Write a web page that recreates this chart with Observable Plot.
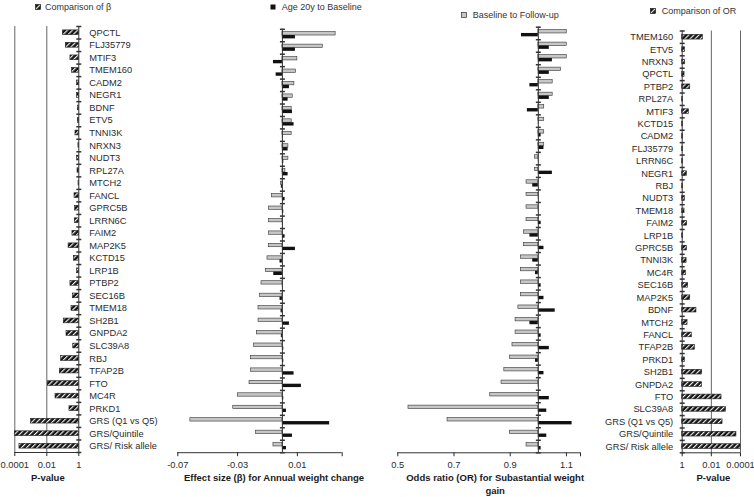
<!DOCTYPE html>
<html>
<head>
<meta charset="utf-8">
<script src="https://cdn.jsdelivr.net/npm/d3@7"></script>
<script src="https://cdn.jsdelivr.net/npm/@observablehq/plot@0.6"></script>
<style>
  html, body { margin: 0; padding: 0; background: #fff; }
  #chart { position: relative; width: 754px; height: 497px; overflow: hidden; font-family: "Liberation Sans", Arial, Helvetica, sans-serif; }
  #chart .layer { position: absolute; left: 0; top: 0; }
  .lg-text { position: absolute; font-size: 9px; line-height: 12px; color: #333; white-space: nowrap; }
  .lg-sw { position: absolute; }
</style>
</head>
<body>
<div id="chart"></div>
<svg width="0" height="0" style="position:absolute;left:0;top:0">
  <defs>
    <pattern id="hatch" patternUnits="userSpaceOnUse" width="3.6" height="3.6" patternTransform="rotate(45)">
      <rect width="3.6" height="3.6" fill="#141414"></rect>
      <line x1="0.6" y1="0" x2="0.6" y2="3.6" stroke="#ffffff" stroke-width="1.1"></line>
    </pattern>
  </defs>
</svg>
<script>
// ---------- DATA ----------
// Left panels (P-value of β comparison, and β effect sizes) — row order
const betaGenes = ["QPCTL","FLJ35779","MTIF3","TMEM160","CADM2","NEGR1","BDNF","ETV5","TNNI3K","NRXN3","NUDT3","RPL27A","MTCH2","FANCL","GPRC5B","LRRN6C","FAIM2","MAP2K5","KCTD15","LRP1B","PTBP2","SEC16B","TMEM18","SH2B1","GNPDA2","SLC39A8","RBJ","TFAP2B","FTO","MC4R","PRKD1","GRS (Q1 vs Q5)","GRS/Quintile","GRS/ Risk allele"];
const betaCompareP = [0.1,0.155,0.30,0.38,0.79,0.79,0.87,0.87,0.62,0.95,0.79,0.83,0.96,0.54,0.59,0.56,0.40,0.23,0.49,0.79,0.30,0.42,0.35,0.115,0.17,0.45,0.079,0.065,0.0115,0.035,0.26,0.00105,0.0001,0.000195];
const betaFollowUp = [0.0356,0.027,0.010,0.0091,0.008,0.0069,0.0062,0.0062,0.0062,0.004,0.004,0.002,-0.001,-0.0071,-0.0089,-0.0089,-0.0089,-0.0089,-0.010,-0.011,-0.014,-0.0149,-0.016,-0.016,-0.0171,-0.0189,-0.0209,-0.0209,-0.022,-0.0298,-0.0329,-0.0616,-0.0178,-0.006];
const betaAge20 = [0.0087,0.0087,-0.006,-0.0042,0.0047,0.0038,0.0067,0.0078,0.0003,0.0038,0.0009,0.0038,-0.0007,0.0018,0.0009,0.0003,0.0018,0.0087,-0.0016,-0.0058,0.0003,-0.0016,-0.0009,0.0047,-0.0007,0.0009,0.0009,0.0078,0.0127,0.0009,0.0027,0.0316,0.0067,0.0027];

// Right panels (OR effect sizes, and P-value of OR comparison) — row order
const orGenes = ["TMEM160","ETV5","NRXN3","QPCTL","PTBP2","RPL27A","MTIF3","KCTD15","CADM2","FLJ35779","LRRN6C","NEGR1","RBJ","NUDT3","TMEM18","FAIM2","LRP1B","GPRC5B","TNNI3K","MC4R","SEC16B","MAP2K5","BDNF","MTCH2","FANCL","TFAP2B","PRKD1","SH2B1","GNPDA2","FTO","SLC39A8","GRS (Q1 vs Q5)","GRS/Quintile","GRS/ Risk allele"];
const orFollowUp = [1.101,1.101,1.101,1.081,1.051,1.051,1.021,1.021,1.021,1.021,0.988,0.988,0.958,0.958,0.958,0.958,0.949,0.949,0.938,0.938,0.938,0.938,0.929,0.919,0.919,0.908,0.899,0.879,0.869,0.829,0.538,0.677,0.899,0.958];
const orAge20 = [0.94,1.039,1.05,1.039,0.97,1.039,0.961,1.001,1.01,1.02,1.001,1.05,0.98,1.001,1.001,1.01,0.97,1.02,0.98,0.99,1.01,1.02,1.06,0.97,1.01,1.039,0.99,1.02,1.001,1.039,1.03,1.12,1.03,1.01];
const orCompareP = [0.038,0.63,0.63,0.69,0.28,0.89,0.35,0.89,0.89,0.89,0.89,0.48,0.89,0.66,0.69,0.46,0.85,0.48,0.50,0.56,0.39,0.28,0.105,0.43,0.22,0.135,0.66,0.043,0.043,0.002,0.001,0.0017,0.00019,0.0001];

// Axis ticks and texts
const pTicks = [0.0001, 0.01, 1];
const betaTicks = [-0.07, -0.03, 0.01];
const betaAxisEnd = 0.04;
const orTicks = [0.5, 0.7, 0.9, 1.1];
const orAxisEnd = 1.15;
const betaBaseline = 0;
const orBaseline = 1;
const pBaseline = 1;
const titles = ["P-value", "Effect size (\u03b2) for Annual weight change", "Odds ratio (OR) for Subastantial weight\ngain", "P-value"];
const legendLabels = ["Comparison of \u03b2", "Age 20y to Baseline", "Baseline to Follow-up", "Comparison of OR"];

// ---------- STYLE / LAYOUT ----------
const W = 754, H = 497;
const FONT = '"Liberation Sans", Arial, Helvetica, sans-serif';
const C_AXIS = "#333333", C_GRID = "#666666", C_GRAY = "#c6c6c6", C_BLACK = "#111111", HATCH = "url(#hatch)";
const chart = document.getElementById("chart");
const hTick = {draw(ctx, size) { const r = Math.sqrt(size / Math.PI); ctx.moveTo(-r, 0); ctx.lineTo(r, 0); }};
const base = {width: W, height: H, style: {background: "transparent", fontFamily: FONT, fontSize: "9.3px", color: "#2b2b2b"}};
function box(left, right, top, bottom) { return {marginLeft: left, marginRight: W - right, marginTop: top, marginBottom: H - bottom}; }
function layer(svg) { svg.classList.add("layer"); chart.appendChild(svg); }
const n = betaGenes.length;
const rows = d3.range(n);
const bounds = d3.range(n + 1).map(i => i - 0.5);
const yOpts = {domain: [-0.5, n - 0.5], reverse: true, axis: null};
const titleStyle = {text: d => d, frameAnchor: "bottom", lineAnchor: "middle", fontWeight: "bold", fontSize: 9.5, fill: "#1a1a1a"};

// Panel 1: P-value of β comparison
layer(Plot.plot({
  ...base, ...box(14.3, 78.3, 26, 452),
  x: {type: "log", domain: [0.0001, 1]},
  y: {domain: [-0.5, n - 0.5], reverse: true},
  marks: [
    Plot.ruleX(pTicks.filter(t => t !== pBaseline), {stroke: C_GRID}),
    Plot.rect(rows, {x1: () => pBaseline, x2: i => betaCompareP[i], y1: i => i - 0.19, y2: i => i + 0.19, fill: HATCH, stroke: "#1a1a1a", strokeWidth: 0.6}),
    Plot.ruleX([pBaseline], {stroke: C_AXIS}),
    Plot.ruleY([n - 0.5], {stroke: C_AXIS}),
    Plot.dot(bounds, {x: () => pBaseline, y: d => d, r: 2.5, symbol: hTick, stroke: C_AXIS, fill: "none"}),
    Plot.axisY(rows, {anchor: "right", tickSize: 0, tickPadding: 10.5, tickFormat: i => betaGenes[i], label: null}),
    Plot.axisX(pTicks, {anchor: "bottom", tickSize: 4, tickPadding: 4.7, tickFormat: d => String(d), label: null}),
    Plot.text([titles[0]], {...titleStyle, dy: 25, dx: 1})
  ]
}));

// Panel 2: β effect sizes
layer(Plot.plot({
  ...base, ...box(177.3, 341.7, 28.8, 452.2),
  x: {domain: [betaTicks[0], betaAxisEnd]},
  y: yOpts,
  marks: [
    Plot.rect(rows, {x1: () => betaBaseline, x2: i => betaFollowUp[i], y1: i => i - 0.27, y2: i => i, fill: C_GRAY, stroke: C_AXIS, strokeWidth: 0.6}),
    Plot.rect(rows, {x1: () => betaBaseline, x2: i => betaAge20[i], y1: i => i, y2: i => i + 0.27, fill: C_BLACK}),
    Plot.ruleX([betaBaseline], {stroke: C_AXIS}),
    Plot.ruleY([n - 0.5], {stroke: C_AXIS}),
    Plot.dot(bounds, {x: () => betaBaseline, y: d => d, r: 2.5, symbol: hTick, stroke: C_AXIS, fill: "none"}),
    Plot.axisX([...betaTicks, betaAxisEnd], {anchor: "bottom", tickSize: 4, tickPadding: 4.7, tickFormat: d => betaTicks.includes(d) ? String(d) : "", label: null}),
    Plot.text([titles[1]], {...titleStyle, dy: 25, dx: 14})
  ]
}));

// Panel 3: OR effect sizes
layer(Plot.plot({
  ...base, ...box(397.3, 580, 26.7, 452.3),
  x: {domain: [orTicks[0], orAxisEnd]},
  y: yOpts,
  marks: [
    Plot.rect(rows, {x1: () => orBaseline, x2: i => orFollowUp[i], y1: i => i - 0.27, y2: i => i, fill: C_GRAY, stroke: C_AXIS, strokeWidth: 0.6}),
    Plot.rect(rows, {x1: () => orBaseline, x2: i => orAge20[i], y1: i => i, y2: i => i + 0.27, fill: C_BLACK}),
    Plot.ruleX([orBaseline], {stroke: C_AXIS}),
    Plot.ruleY([n - 0.5], {stroke: C_AXIS}),
    Plot.dot(bounds, {x: () => orBaseline, y: d => d, r: 2.5, symbol: hTick, stroke: C_AXIS, fill: "none"}),
    Plot.axisX([...orTicks, orAxisEnd], {anchor: "bottom", tickSize: 4, tickPadding: 4.7, tickFormat: d => orTicks.includes(d) ? String(d) : "", label: null}),
    Plot.text([titles[2]], {...titleStyle, dy: 30.8, dx: 6, lineHeight: 1.32})
  ]
}));

// Panel 4: P-value of OR comparison
layer(Plot.plot({
  ...base, ...box(681.7, 740, 30.5, 452.3),
  x: {type: "log", domain: [1, 0.0001]},
  y: {domain: [-0.5, n - 0.5], reverse: true},
  marks: [
    Plot.ruleX(pTicks.filter(t => t !== pBaseline), {stroke: C_GRID}),
    Plot.rect(rows, {x1: () => pBaseline, x2: i => orCompareP[i], y1: i => i - 0.19, y2: i => i + 0.19, fill: HATCH, stroke: "#1a1a1a", strokeWidth: 0.6}),
    Plot.ruleX([pBaseline], {stroke: C_AXIS}),
    Plot.ruleY([n - 0.5], {stroke: C_AXIS}),
    Plot.dot(bounds, {x: () => pBaseline, y: d => d, r: 2.5, symbol: hTick, stroke: C_AXIS, fill: "none"}),
    Plot.axisY(rows, {anchor: "left", tickSize: 0, tickPadding: 9, tickFormat: i => orGenes[i], label: null}),
    Plot.axisX(pTicks, {anchor: "bottom", tickSize: 4, tickPadding: 4.7, tickFormat: d => String(d), label: null}),
    Plot.text([titles[3]], {...titleStyle, dy: 25, dx: 2})
  ]
}));

// Legend entries (HTML)
const legendLayout = [
  {sx: 35, tx: 45, cy: 7, fill: HATCH, stroke: "#1a1a1a"},
  {sx: 270, tx: 281.7, cy: 6.5, fill: C_BLACK, stroke: "none"},
  {sx: 461, tx: 472.7, cy: 15, fill: C_GRAY, stroke: C_AXIS},
  {sx: 650, tx: 661.7, cy: 11, fill: HATCH, stroke: "#1a1a1a"}
];
legendLabels.forEach((label, i) => {
  const L = legendLayout[i];
  const sw = document.createElementNS("http://www.w3.org/2000/svg", "svg");
  sw.setAttribute("width", 6); sw.setAttribute("height", 6);
  sw.setAttribute("class", "lg-sw");
  sw.style.left = L.sx + "px"; sw.style.top = (L.cy - 3) + "px";
  const r = document.createElementNS("http://www.w3.org/2000/svg", "rect");
  r.setAttribute("x", 0.5); r.setAttribute("y", 0.5); r.setAttribute("width", 5); r.setAttribute("height", 5);
  r.setAttribute("fill", L.fill); r.setAttribute("stroke", L.stroke); r.setAttribute("stroke-width", 0.7);
  sw.appendChild(r);
  chart.appendChild(sw);
  const t = document.createElement("div");
  t.className = "lg-text";
  t.textContent = label;
  t.style.left = L.tx + "px"; t.style.top = (L.cy - 6) + "px";
  chart.appendChild(t);
});
</script>
</body>
</html>
